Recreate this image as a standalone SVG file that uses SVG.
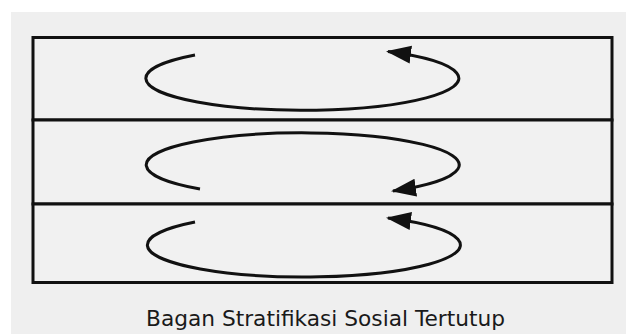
<svg xmlns="http://www.w3.org/2000/svg" width="626" height="334" viewBox="0 0 626 334">
  <style>
    .layer { fill: #f1f1f1; stroke: #111; stroke-width: 3; }
    .loop { fill: none; stroke: #111; stroke-width: 3; marker-end: url(#arrow); }
    .title { font-family: "DejaVu Sans", Verdana, sans-serif; font-size: 22px; fill: #1a1a1a; }
  </style>
  <defs>
    <marker id="arrow" markerUnits="userSpaceOnUse" markerWidth="26" markerHeight="20" viewBox="0 0 26 20" refX="23" refY="10" orient="auto">
      <path d="M0,1 L25,10 L0,19 z" fill="#111"/>
    </marker>
  </defs>
  <rect x="0" y="0" width="626" height="334" fill="#ffffff"/>
  <rect x="11" y="12" width="615" height="322" fill="#efefef"/>
  <g id="layer-top">
    <rect class="layer" x="33" y="37.5" width="579" height="82.5"/>
  </g>
  <g id="layer-middle">
    <rect class="layer" x="33" y="120" width="579" height="84"/>
  </g>
  <g id="layer-bottom">
    <rect class="layer" x="33" y="204" width="579" height="78.5"/>
  </g>
  <g id="connectors">
    <path class="loop" d="M195,55 A156.5,32 0 1,0 388,51.5"/>
    <path class="loop" d="M200,189 A156.5,32 0 1,1 393,191"/>
    <path class="loop" d="M195,222 A156.5,32 0 1,0 388,218"/>
  </g>
  <g id="caption">
    <text class="title" x="146" y="326" textLength="359" lengthAdjust="spacingAndGlyphs">Bagan Stratifikasi Sosial Tertutup</text>
  </g>
</svg>
